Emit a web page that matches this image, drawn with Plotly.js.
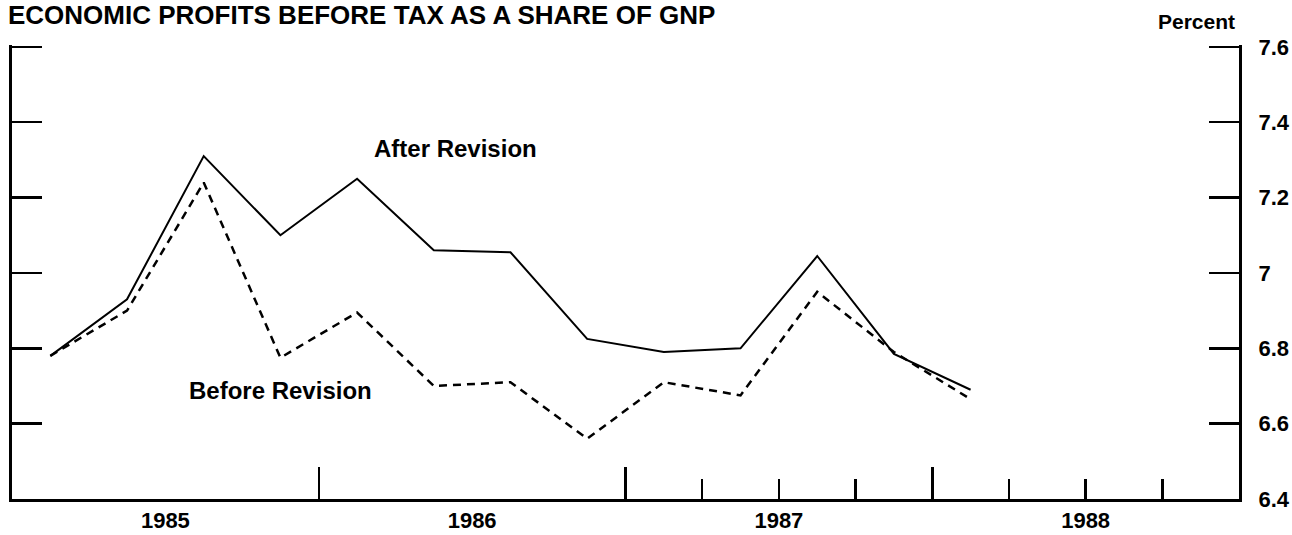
<!DOCTYPE html>
<html>
<head>
<meta charset="utf-8">
<script src="https://cdn.plot.ly/plotly-3.0.1.min.js"></script>
<style>
  html, body { margin: 0; padding: 0; background: #fff; }
  #chart { width: 1292px; height: 535px; }
</style>
</head>
<body>
<div id="chart"></div>
<script>
// Profits before tax as a share of GNP, quarterly, 1985Q1 - 1988Q1
const quarters = ['1985Q1', '1985Q2', '1985Q3', '1985Q4',
                  '1986Q1', '1986Q2', '1986Q3', '1986Q4',
                  '1987Q1', '1987Q2', '1987Q3', '1987Q4',
                  '1988Q1'];
const afterRevision  = [6.78, 6.93, 7.31, 7.10, 7.25, 7.06, 7.055, 6.825, 6.79, 6.80, 7.045, 6.785, 6.69];
const beforeRevision = [6.78, 6.90, 7.24, 6.775, 6.895, 6.70, 6.71, 6.56, 6.71, 6.675, 6.95, 6.79, 6.665];

const years = ['1985', '1986', '1987', '1988'];
const yearBreaks = [1986, 1987, 1988];
const quarterBreaks = [1987.25, 1987.5, 1987.75, 1988.25, 1988.5, 1988.75];
const yTicks = [6.4, 6.6, 6.8, 7.0, 7.2, 7.4, 7.6];

// quarter label -> middle of the quarter on a year scale
function quarterMid(q) {
    const yr = parseInt(q.slice(0, 4), 10);
    const n = parseInt(q.slice(5), 10);
    return yr + (n - 0.5) / 4;
}
const xs = quarters.map(quarterMid);
const yearMids = years.map(y => parseInt(y, 10) + 0.5);

const font = { family: '"Liberation Sans", Arial, sans-serif', color: '#000' };
const boldFont = size => ({ family: font.family, size: size, weight: 'bold', color: '#000' });

const traces = [
    {
        x: xs, y: afterRevision, type: 'scatter', mode: 'lines',
        name: 'After Revision',
        line: { color: '#000', width: 2 }
    },
    {
        // drawn on the overlaid axis that carries the year labels
        x: xs, y: beforeRevision, type: 'scatter', mode: 'lines',
        xaxis: 'x2',
        name: 'Before Revision',
        line: { color: '#000', width: 2.5, dash: '8px,6px' }
    }
];

const layout = {
    width: 1292,
    height: 535,
    margin: { l: 12, r: 53, t: 45, b: 36 },
    paper_bgcolor: '#fff',
    plot_bgcolor: '#fff',
    showlegend: false,
    font: font,
    title: {
        text: 'ECONOMIC PROFITS BEFORE TAX AS A SHARE OF GNP',
        xref: 'container', yref: 'container',
        x: 8 / 1292, xanchor: 'left',
        y: 1 - 15 / 535, yanchor: 'middle',
        font: boldFont(26)
    },
    xaxis: {
        range: [1985, 1989],
        showgrid: false, zeroline: false,
        showline: true, linecolor: '#000', linewidth: 3,
        tickmode: 'array', tickvals: yearBreaks, ticktext: yearBreaks.map(() => ''),
        ticks: 'inside', ticklen: 32, tickwidth: 2.5, tickcolor: '#000',
        minor: {
            tickmode: 'array', tickvals: quarterBreaks,
            ticks: 'inside', ticklen: 20, tickwidth: 2.5, tickcolor: '#000'
        }
    },
    xaxis2: {
        overlaying: 'x', matches: 'x', anchor: 'y', side: 'bottom',
        showgrid: false, zeroline: false, showline: false,
        tickmode: 'array', tickvals: yearMids, ticktext: years,
        ticks: '', ticklabelstandoff: 6,
        tickfont: boldFont(22)
    },
    yaxis: {
        range: [6.4, 7.605],
        side: 'right',
        showgrid: false, zeroline: false,
        showline: true, linecolor: '#000', linewidth: 3, mirror: 'ticks',
        tickmode: 'array', tickvals: yTicks,
        ticks: 'inside', ticklen: 30, tickwidth: 2.5, tickcolor: '#000',
        ticklabelstandoff: 12,
        tickfont: boldFont(22)
    },
    annotations: [
        {
            text: 'After Revision', x: 1986.447, y: 7.33, xref: 'x', yref: 'y',
            showarrow: false, xanchor: 'center', yanchor: 'middle',
            font: boldFont(24)
        },
        {
            text: 'Before Revision', x: 1985.875, y: 6.687, xref: 'x', yref: 'y',
            showarrow: false, xanchor: 'center', yanchor: 'middle',
            font: boldFont(24)
        },
        {
            text: 'Percent', xref: 'paper', yref: 'paper',
            x: (1237 - 12) / 1227, y: (499 - 21.5) / 454,
            showarrow: false, xanchor: 'right', yanchor: 'middle',
            font: boldFont(21)
        }
    ]
};

Plotly.newPlot('chart', traces, layout, { displayModeBar: false, staticPlot: true });
</script>
</body>
</html>
